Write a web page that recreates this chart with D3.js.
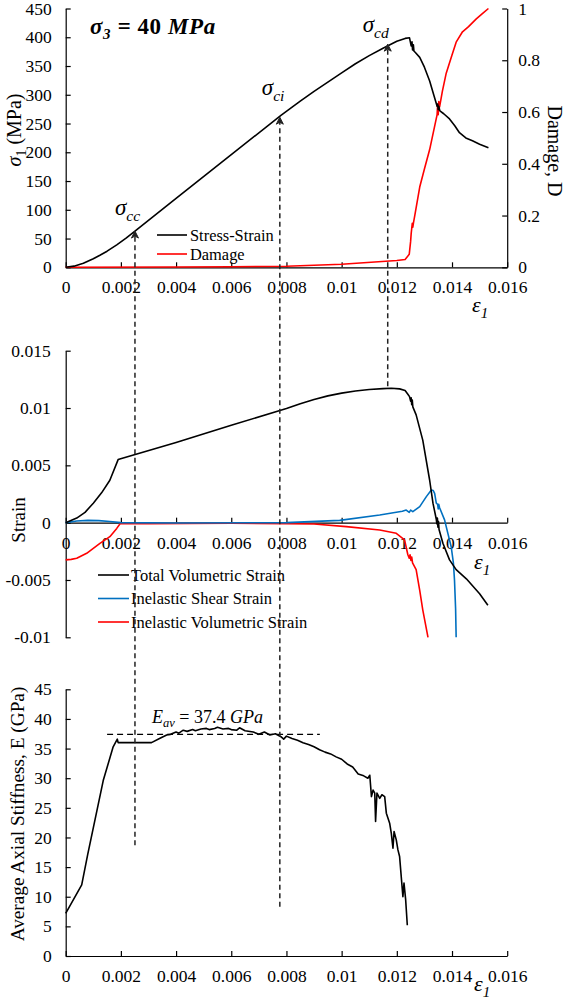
<!DOCTYPE html>
<html><head><meta charset="utf-8">
<script src="https://cdn.jsdelivr.net/npm/d3@7"></script>
<style>
html,body{margin:0;padding:0;background:#fff;}
svg text{font-family:"Liberation Serif","Times New Roman",serif;fill:#000;}
</style></head>
<body>
<svg id="chart" width="567" height="1002"></svg>
<script>
// ---------------- DATA ----------------
const strainTicks = [0,0.002,0.004,0.006,0.008,0.01,0.012,0.014,0.016];
const stressTicks = [0,50,100,150,200,250,300,350,400,450];
const damageTicks = [0,0.2,0.4,0.6,0.8,1];
const volTicks = [-0.01,-0.005,0,0.005,0.01,0.015];
const stiffTicks = [0,5,10,15,20,25,30,35,40,45];

// Stress-strain: [axial strain, sigma1 MPa]
const stressStrain = [[0,0],[0.0003,2],[0.00064,7],[0.001,15],[0.00124,21],[0.0015,28],[0.00185,39],[0.0022,51],[0.00251,63],
 [0.004,120],[0.006,196],[0.0078,264],[0.0085,289],[0.009,306],[0.0095,322],[0.01,338],[0.0105,354],[0.011,368],
 [0.0115,381],[0.012,393],[0.0123,398],[0.01246,399],
 [0.01252,385],[0.01255,392],[0.01257,378],[0.0126,387],[0.01262,376],[0.01268,373],[0.01283,365],[0.013,348],[0.01319,324],
 [0.01335,298],[0.01346,280],[0.01348,284],[0.0135,274],[0.01352,280],[0.01356,272],[0.0137,267],[0.01391,258],[0.0141,246],
 [0.01427,234],[0.0145,225],[0.01474,220],[0.015,214],[0.01532,208]];
// Damage D: [axial strain, D]
const damage = [[0,0],[0.004,0.001],[0.006,0.002],[0.008,0.004],[0.01,0.012],[0.012,0.026],[0.0123,0.03],[0.01245,0.05],
 [0.0125,0.1],[0.01252,0.13],[0.01254,0.15],[0.01256,0.17],[0.01258,0.155],[0.0126,0.17],[0.01265,0.2],[0.01283,0.31],
 [0.013,0.38],[0.01319,0.455],[0.0134,0.56],[0.01346,0.59],[0.01348,0.63],[0.0135,0.59],[0.01352,0.64],[0.01355,0.62],
 [0.01365,0.68],[0.01379,0.75],[0.014,0.82],[0.01415,0.87],[0.01438,0.91],[0.0146,0.93],[0.01488,0.96],[0.0151,0.98],[0.01532,1.0]];
// Total volumetric strain
const totalVol = [[0,0],[0.0004,0.0004],[0.0007,0.0009],[0.001,0.0017],[0.0013,0.0026],[0.0016,0.0037],[0.0019,0.0055],
 [0.004,0.0070],[0.006,0.0085],[0.008,0.00995],[0.0085,0.01038],[0.009,0.01075],[0.0095,0.01106],[0.01,0.0113],
 [0.0105,0.01148],[0.011,0.01161],[0.0115,0.01169],[0.0118,0.01172],[0.0121,0.01167],[0.0123,0.01152],
 [0.0124,0.0112],[0.01246,0.01099],[0.0125,0.0106],[0.01252,0.0109],[0.01254,0.0103],[0.01256,0.0107],[0.01258,0.0101],
 [0.0127,0.0094],[0.01294,0.0072],[0.01319,0.0037],[0.01331,0.0017],[0.01343,0.0003],[0.01345,-0.0001],[0.01347,0.0004],
 [0.01349,-0.0004],[0.01351,0.0001],[0.01353,-0.0006],[0.01367,-0.0018],[0.01391,-0.00325],[0.01415,-0.0041],
 [0.01452,-0.0049],[0.015,-0.0062],[0.0153,-0.0072]];
// Inelastic shear strain
const shearInel = [[0,0],[0.0004,0.00015],[0.0008,0.0002],[0.0012,0.00018],[0.0016,0.0001],[0.002,0],[0.004,-0.00003],
 [0.008,0],[0.00993,0.0002],[0.01138,0.00067],[0.0122,0.001],[0.01234,0.0011],[0.01245,0.0009],[0.0125,0.0011],
 [0.01258,0.00096],[0.01283,0.0014],[0.01307,0.00227],[0.01325,0.00285],[0.01332,0.0028],[0.01337,0.00256],
 [0.01343,0.0017],[0.01348,0.0016],[0.0135,0.0012],[0.01352,0.0016],[0.01355,0.0013],[0.01373,0.00024],
 [0.01385,-0.00093],[0.01397,-0.0021],[0.01405,-0.0035],[0.01409,-0.005],[0.01413,-0.0075],[0.01415,-0.01]];
// Inelastic volumetric strain
const volInel = [[0,-0.00325],[0.0002,-0.0032],[0.0004,-0.0031],[0.00076,-0.00267],[0.00124,-0.0018],[0.0016,-0.00122],
 [0.00185,-0.0005],[0.00197,-0.0001],[0.003,-0.00008],[0.006,-0.00005],[0.008,-0.0001],[0.009,-0.00012],[0.01017,-0.00035],
 [0.01138,-0.00064],[0.01198,-0.00093],[0.01228,-0.0015],[0.0124,-0.0028],[0.01245,-0.0031],[0.01248,-0.0028],
 [0.01251,-0.0033],[0.01254,-0.003],[0.01257,-0.0035],[0.0127,-0.0041],[0.01283,-0.0059],[0.01294,-0.0076],[0.01313,-0.01]];
// Average axial stiffness E (GPa)
const stiffness = [[0,7.2],[0.00058,12],[0.0008,17.2],[0.00136,29.6],[0.00172,35.3],[0.00187,36.6],[0.0019,36],[0.00311,36],
 [0.0034,36.7],[0.00366,37.3],[0.0038,37.4],[0.004,37.8],[0.0041,37.6],[0.00426,38.1],[0.0044,37.9],[0.0046,38.2],[0.0047,38.0],
 [0.0049,38.3],[0.0051,38.4],[0.0052,38.2],[0.0054,38.4],[0.0055,38.6],[0.0057,38.3],[0.0059,38.4],[0.006,38.2],[0.0062,38.1],
 [0.0063,38.5],[0.0065,38.0],[0.0068,37.8],[0.007,37.4],[0.0072,37.8],[0.0074,37.3],[0.0076,37.5],[0.0078,37.0],
 [0.0079,36.6],[0.008,37.1],[0.0082,36.7],[0.0084,36.4],[0.0086,36.0],[0.0088,35.7],[0.009,35.3],[0.0092,34.8],
 [0.0094,34.4],[0.0096,34.1],[0.0098,33.6],[0.01,33.2],[0.0102,32.4],[0.0104,31.9],[0.0106,30.7],[0.0108,30.4],
 [0.01095,30.0],[0.01102,30.5],[0.01108,26.9],[0.01114,28.0],[0.0112,27.5],
 [0.01123,22.7],[0.01128,27.5],[0.01138,26.6],[0.01146,27.2],[0.01156,26.9],[0.01162,24.1],[0.01174,22.4],[0.0118,20.7],
 [0.01186,18.2],[0.0119,21.0],[0.01198,19.6],[0.01204,17.9],[0.0121,16.8],[0.01216,13.4],[0.01222,10.0],[0.01226,12.3],
 [0.01232,9.5],[0.01238,5.2]];
const avgStiffness = 37.4;
const avgStiffRange = [0.0015, 0.00921];
// Characteristic stress thresholds (axial strain, stress at arrow tip, lower end value)
const thresholdStrain = [0.00251, 0.00776, 0.01167];
const thresholdStress = [63, 261, 388];
const thresholdLowPanel = ["E", "E", "vol"];
const thresholdLowValue = [18.7, 8.3, 0.0119];
const thresholdNames = ["cc", "ci", "cd"];

// ---------------- SCALES ----------------
const svg = d3.select("#chart");
const x = d3.scaleLinear().domain([0, 0.016]).range([65.7, 507.2]);
const yS = d3.scaleLinear().domain([0, 450]).range([267.3, 8.5]);
const yD = d3.scaleLinear().domain([0, 1]).range([267.3, 8.5]);
const yV = d3.scaleLinear().domain([-0.01, 0.015]).range([637.3, 350.7]);
const yE = d3.scaleLinear().domain([0, 45]).range([956, 689.3]);
const fmt = d => d === 0 ? "0" : String(+d.toFixed(4));

function styleAxis(g, fs) {
  g.select(".domain").attr("stroke", "#000").attr("stroke-width", 1.2);
  g.selectAll(".tick line").attr("stroke", "#000").attr("stroke-width", 1.2);
  g.selectAll("text").attr("font-size", fs).attr("fill", "#000")
    .style("font-family", '"Liberation Serif",serif');
  g.attr("font-family", null).attr("font-size", null);
}
function xAxisAt(y0, pad) {
  svg.append("g").attr("transform", `translate(0,${y0})`)
    .call(d3.axisBottom(x).tickValues(strainTicks).tickSizeInner(-5).tickSizeOuter(0).tickPadding(pad).tickFormat(fmt))
    .call(g => styleAxis(g, 17.5));
}
function yAxisLeft(scale, ticks, pad) {
  svg.append("g").attr("transform", `translate(${x(0)},0)`)
    .call(d3.axisLeft(scale).tickValues(ticks).tickSizeInner(-5).tickSizeOuter(0).tickPadding(pad).tickFormat(fmt))
    .call(g => styleAxis(g, 17.5));
}
const line = (ys) => d3.line().x(d => x(d[0])).y(d => ys(d[1]));
function drawLine(data, ys, color) {
  svg.append("path").datum(data).attr("d", line(ys)).attr("fill", "none")
    .attr("stroke", color).attr("stroke-width", 1.6).attr("stroke-linejoin", "round");
}
function subLabel(g, px, py, main, sub, fs, opts = {}) {
  const t = g.append("text").attr("x", px).attr("y", py).attr("font-size", fs)
    .attr("font-style", opts.italic === false ? "normal" : "italic")
    .attr("font-weight", opts.bold ? "bold" : "normal");
  t.append("tspan").text(main);
  t.append("tspan").attr("font-size", fs * 0.68).attr("dy", fs * 0.25).text(sub);
  if (opts.rest) t.append("tspan").attr("dy", -fs * 0.25).text(opts.rest);
  return t;
}

// ---------------- PANEL 1 ----------------
xAxisAt(yS(0), 13);
yAxisLeft(yS, stressTicks, 14);
svg.append("g").attr("transform", `translate(${x(0.016)},0)`)
  .call(d3.axisRight(yD).tickValues(damageTicks).tickSizeInner(-5).tickSizeOuter(0).tickPadding(11).tickFormat(fmt))
  .call(g => styleAxis(g, 17.5));
drawLine(damage, yD, "#ff0000");
drawLine(stressStrain, yS, "#000");

// title
{
  const t = svg.append("text").attr("x", 90).attr("y", 34).attr("font-size", 23)
    .attr("font-weight", "bold").attr("font-style", "italic").attr("letter-spacing", 0.6);
  t.append("tspan").text("σ");
  t.append("tspan").attr("font-size", 15).attr("dy", 5).text("3");
  t.append("tspan").attr("dy", -5).text(" = ");
  t.append("tspan").attr("font-style", "normal").text("40");
  t.append("tspan").text(" MPa");
}
// axis titles
{
  const t = svg.append("text").attr("transform", "translate(21,130) rotate(-90)")
    .attr("text-anchor", "middle").attr("font-size", 20);
  t.append("tspan").attr("font-style", "italic").text("σ");
  t.append("tspan").attr("font-size", 14).attr("dy", 5).text("1");
  t.append("tspan").attr("dy", -5).text(" (MPa)");
  svg.append("text").attr("transform", "translate(548,151) rotate(90)")
    .attr("text-anchor", "middle").attr("font-size", 20).text("Damage, D");
}
subLabel(svg, 472, 312, "ε", "1", 22);
// legend 1
svg.append("line").attr("x1", 157).attr("x2", 187).attr("y1", 235).attr("y2", 235).attr("stroke", "#000").attr("stroke-width", 1.6);
svg.append("text").attr("x", 190).attr("y", 240.5).attr("font-size", 16.4).text("Stress-Strain");
svg.append("line").attr("x1", 157).attr("x2", 187).attr("y1", 254).attr("y2", 254).attr("stroke", "#ff0000").attr("stroke-width", 1.6);
svg.append("text").attr("x", 190).attr("y", 259.5).attr("font-size", 16.4).text("Damage");

// ---------------- PANEL 2 ----------------
xAxisAt(yV(0), 14);
yAxisLeft(yV, volTicks, 15);
drawLine(volInel, yV, "#ff0000");
drawLine(shearInel, yV, "#0070c0");
drawLine(totalVol, yV, "#000");
svg.append("text").attr("transform", "translate(25,520) rotate(-90)")
  .attr("text-anchor", "middle").attr("font-size", 19).text("Strain");
subLabel(svg, 474, 569, "ε", "1", 22);
const leg2 = [["Total Volumetric Strain", "#000"], ["Inelastic Shear Strain", "#0070c0"], ["Inelastic Volumetric Strain", "#ff0000"]];
const leg2Y = [575, 598.5, 622];
leg2.forEach((d, i) => {
  svg.append("line").attr("x1", 98).attr("x2", 129).attr("y1", leg2Y[i]).attr("y2", leg2Y[i]).attr("stroke", d[1]).attr("stroke-width", 1.6);
  svg.append("text").attr("x", 131).attr("y", leg2Y[i] + 5.5).attr("font-size", 16.5).text(d[0]);
});

// ---------------- PANEL 3 ----------------
xAxisAt(yE(0), 14);
yAxisLeft(yE, stiffTicks, 14);
drawLine(stiffness, yE, "#000");
svg.append("text").attr("transform", "translate(24,814) rotate(-90)")
  .attr("text-anchor", "middle").attr("font-size", 19.3).text("Average Axial Stiffness, E (GPa)");
subLabel(svg, 474, 991, "ε", "1", 22);
// average stiffness dashed line and label
svg.append("line").attr("x1", x(avgStiffRange[0])).attr("x2", x(avgStiffRange[1])).attr("y1", yE(avgStiffness)).attr("y2", yE(avgStiffness))
  .attr("stroke", "#000").attr("stroke-width", 1.4).attr("stroke-dasharray", "6,4");
{
  const t = svg.append("text").attr("x", 152).attr("y", 723).attr("font-size", 18);
  t.append("tspan").attr("font-style", "italic").text("E");
  t.append("tspan").attr("font-style", "italic").attr("font-size", 12.5).attr("dy", 4).text("av");
  t.append("tspan").attr("dy", -4).text(" = " + avgStiffness + " ");
  t.append("tspan").attr("font-style", "italic").text("GPa");
}

// ---------------- THRESHOLD ARROWS ----------------
const lowScale = { E: yE, vol: yV };
const labelOffsets = [[-20, -16], [-18, -22], [-25, -12]];
thresholdStrain.forEach((e, i) => {
  const px = x(e);
  const yTop = yS(thresholdStress[i]);
  const yBot = lowScale[thresholdLowPanel[i]](thresholdLowValue[i]);
  svg.append("line").attr("x1", px).attr("x2", px).attr("y1", yBot).attr("y2", yTop + 2)
    .attr("stroke", "#222").attr("stroke-width", 1.5).attr("stroke-dasharray", "5,3.5");
  svg.append("path").attr("d", `M${px - 3.5},${yTop + 7} L${px},${yTop} L${px + 3.5},${yTop + 7} L${px},${yTop + 5} Z`)
    .attr("fill", "#222").attr("stroke", "#222").attr("stroke-width", 1);
  subLabel(svg, px + labelOffsets[i][0], yTop + labelOffsets[i][1], "σ", thresholdNames[i], 23);
});
</script>
</body></html>
